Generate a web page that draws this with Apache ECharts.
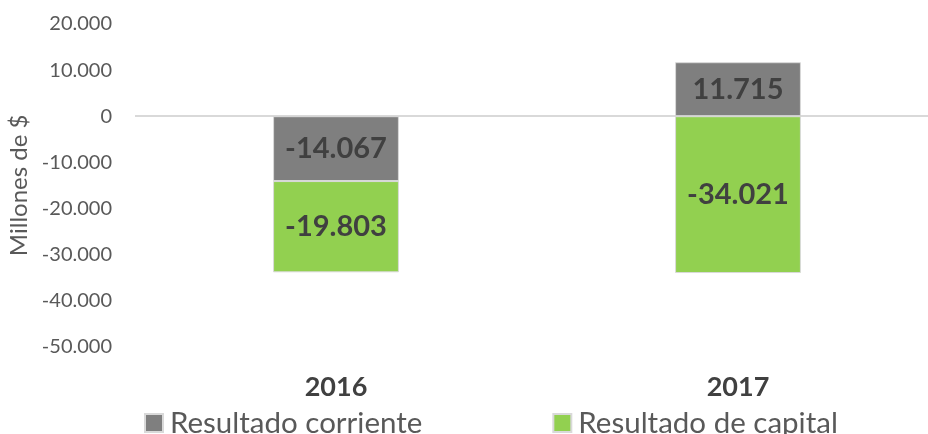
<!DOCTYPE html>
<html><head><meta charset="utf-8">
<script src="https://cdn.jsdelivr.net/npm/echarts@6/dist/echarts.min.js"></script>
<style>html,body{margin:0;padding:0;background:#fff}#c{width:928px;height:434px}</style>
</head><body><div id="c"></div>
<script>
const categories = ['2016', '2017'];
const resultadoCorriente = [-14067, 11715];
const resultadoCapital = [-19803, -34021];
const seriesNames = ['Resultado corriente', 'Resultado de capital'];
const yTicks = {min: -50000, max: 20000, interval: 10000};

const fmt = v => {
  const s = Math.abs(v).toString().replace(/\B(?=(\d{3})+(?!\d))/g, '.');
  return (v < 0 ? '-' : '') + s;
};
const FONT = 'Lato, "Open Sans", sans-serif';
const chart = echarts.init(document.getElementById('c'));
const labelCfg = {
  show: true, position: 'inside', color: '#404040', fontWeight: 'bold',
  fontSize: 29, fontFamily: FONT, formatter: p => fmt(p.value)
};
chart.setOption({
  animation: false,
  grid: {left: 135, width: 804, top: 24, height: 322.7, containLabel: false, outerBoundsMode: 'none'},
  legend: {
    data: seriesNames, left: 144, top: 408, itemWidth: 18, itemHeight: 18, itemGap: 130,
    icon: 'rect', padding: 0,
    textStyle: {fontSize: 29.5, color: '#595959', fontFamily: FONT, padding: [0, 0, 0, 2]}
  },
  xAxis: {
    type: 'category', data: categories,
    axisLine: {show: false, onZero: false}, axisTick: {show: false},
    axisLabel: {fontSize: 27, fontWeight: 'bold', color: '#404040', margin: 27, fontFamily: FONT}
  },
  yAxis: {
    type: 'value', min: yTicks.min, max: yTicks.max, interval: yTicks.interval,
    name: 'Millones de $', nameLocation: 'middle', nameGap: 101, nameRotate: 90,
    nameTextStyle: {fontSize: 24, color: '#595959', fontFamily: FONT},
    axisLine: {show: false}, axisTick: {show: false}, splitLine: {show: false},
    axisLabel: {fontSize: 20, color: '#595959', margin: 23, fontFamily: FONT, formatter: v => fmt(v)}
  },
  series: [
    {
      name: seriesNames[0], type: 'bar', stack: 'a', data: resultadoCorriente,
      barWidth: '31.3%',
      itemStyle: {color: '#7f7f7f', borderColor: '#d9d9d9', borderWidth: 1},
      label: labelCfg,
      markLine: {
        silent: true, symbol: 'none', label: {show: false},
        lineStyle: {color: '#d9d9d9', width: 2, type: 'solid'},
        data: [{yAxis: 0}], z: 1
      }
    },
    {
      name: seriesNames[1], type: 'bar', stack: 'a', data: resultadoCapital,
      barWidth: '31.3%',
      itemStyle: {color: '#92d050', borderColor: '#d9d9d9', borderWidth: 1},
      label: labelCfg
    }
  ]
});
</script></body></html>
